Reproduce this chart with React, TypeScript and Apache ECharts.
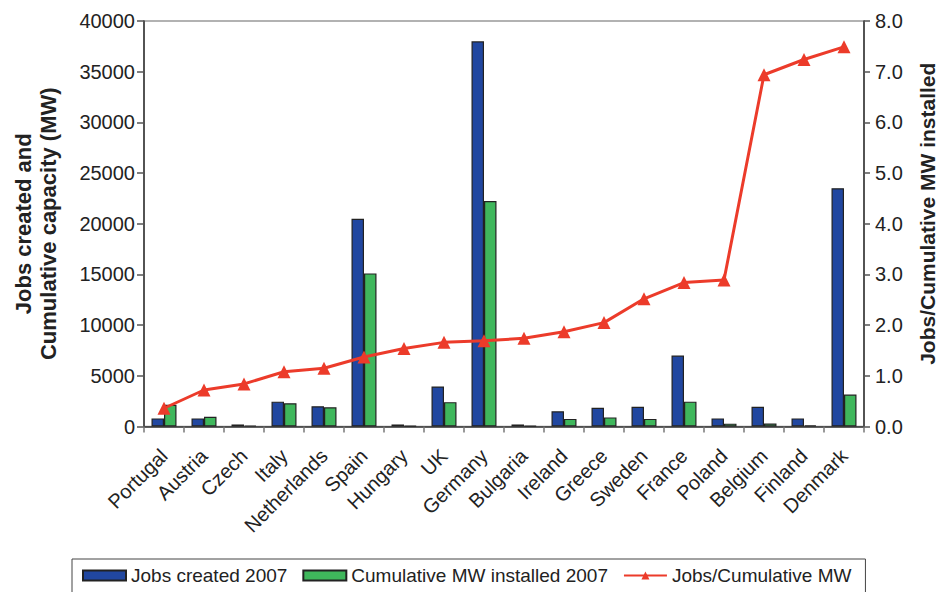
import React, { useEffect, useRef } from "react";
import * as echarts from "echarts";

const countries = ["Portugal", "Austria", "Czech", "Italy", "Netherlands", "Spain", "Hungary", "UK", "Germany", "Bulgaria", "Ireland", "Greece", "Sweden", "France", "Poland", "Belgium", "Finland", "Denmark"];
const jobsCreated2007 = [800, 800, 200, 2450, 2000, 20500, 200, 3950, 38000, 200, 1500, 1850, 1950, 7000, 800, 1950, 800, 23500];
const cumulativeMW2007 = [2150, 950, 100, 2300, 1900, 15100, 60, 2400, 22250, 60, 750, 900, 750, 2450, 280, 290, 110, 3150];
const jobsPerMW = [0.36, 0.72, 0.84, 1.08, 1.15, 1.37, 1.54, 1.66, 1.69, 1.74, 1.87, 2.05, 2.52, 2.84, 2.89, 6.94, 7.24, 7.49];
const leftTicks = [0, 40000, 5000];
const rightTicks = [0, 8, 1];

const FONT = "'Liberation Sans', Arial, Helvetica, sans-serif";

export default function App() {
  const ref = useRef<HTMLDivElement>(null);
  useEffect(() => {
    if (!ref.current) return;
    const chart = echarts.init(ref.current, undefined, { renderer: "svg" });
    chart.setOption({
      animation: false,
      textStyle: { fontFamily: FONT, color: "#222" },
      grid: {
        left: 144, right: 77, top: 21, bottom: 165.5,
        show: true, borderColor: "#999", borderWidth: 1.5,
        containLabel: false, outerBoundsMode: "none",
      },
      legend: {
        left: 72,
        top: 559,
        padding: [7, 14, 12, 10],
        borderColor: "#444",
        borderWidth: 1,
        itemWidth: 43,
        itemHeight: 10,
        itemGap: 15,
        textStyle: { fontFamily: FONT, fontSize: 19, color: "#222" },
        data: [
          { name: "Jobs created 2007", icon: "rect" },
          { name: "Cumulative MW installed 2007", icon: "rect" },
          { name: "Jobs/Cumulative MW" },
        ],
      },
      xAxis: {
        type: "category",
        data: countries,
        boundaryGap: true,
        axisLine: { lineStyle: { color: "#333", width: 1.5 } },
        axisTick: { show: true, length: 6, lineStyle: { color: "#777", width: 1.5 } },
        axisLabel: { rotate: 45, fontSize: 20, color: "#222", margin: 26, interval: 0, fontFamily: FONT },
      },
      yAxis: [
        {
          type: "value",
          min: leftTicks[0],
          max: leftTicks[1],
          interval: leftTicks[2],
          name: "Jobs created and\nCumulative capacity (MW)",
          nameLocation: "middle",
          nameRotate: 90,
          nameGap: 83,
          nameTextStyle: { fontSize: 22, fontWeight: "bold", color: "#222", lineHeight: 25, fontFamily: FONT },
          splitLine: { show: false },
          axisLine: { show: true, lineStyle: { color: "#333", width: 1.5 } },
          axisTick: { show: true, length: 7, lineStyle: { color: "#555", width: 1.5 } },
          axisLabel: { fontSize: 20, color: "#222", margin: 9, fontFamily: FONT, formatter: (v: number) => String(v) },
        },
        {
          type: "value",
          min: rightTicks[0],
          max: rightTicks[1],
          interval: rightTicks[2],
          name: "Jobs/Cumulative MW installed",
          nameLocation: "middle",
          nameRotate: 90,
          nameGap: 53,
          nameTextStyle: { fontSize: 21, fontWeight: "bold", color: "#222", fontFamily: FONT, padding: [0, 0, 0, 20] },
          splitLine: { show: false },
          axisLine: { show: true, lineStyle: { color: "#333", width: 1.5 } },
          axisTick: { show: true, length: 6, lineStyle: { color: "#555", width: 1.5 } },
          axisLabel: { fontSize: 20, color: "#222", margin: 11, fontFamily: FONT, formatter: (v: number) => v.toFixed(1) },
        },
      ],
      series: [
        {
          name: "Jobs created 2007",
          type: "bar",
          data: jobsCreated2007,
          barWidth: 12.5,
          barGap: "0%",
          itemStyle: { color: "#2147a0", borderColor: "#222", borderWidth: 1.2 },
        },
        {
          name: "Cumulative MW installed 2007",
          type: "bar",
          data: cumulativeMW2007,
          barWidth: 12.5,
          barGap: "0%",
          itemStyle: { color: "#3fb75c", borderColor: "#222", borderWidth: 1.2 },
        },
        {
          name: "Jobs/Cumulative MW",
          type: "line",
          yAxisIndex: 1,
          data: jobsPerMW,
          symbol: "triangle",
          symbolSize: 13,
          lineStyle: { color: "#ec3b2a", width: 3 },
          itemStyle: { color: "#ec3b2a" },
        },
      ],
    });
    return () => chart.dispose();
  }, []);
  return <div ref={ref} style={{ width: 941, height: 592, position: "absolute", left: 0, top: 0 }} />;
}
